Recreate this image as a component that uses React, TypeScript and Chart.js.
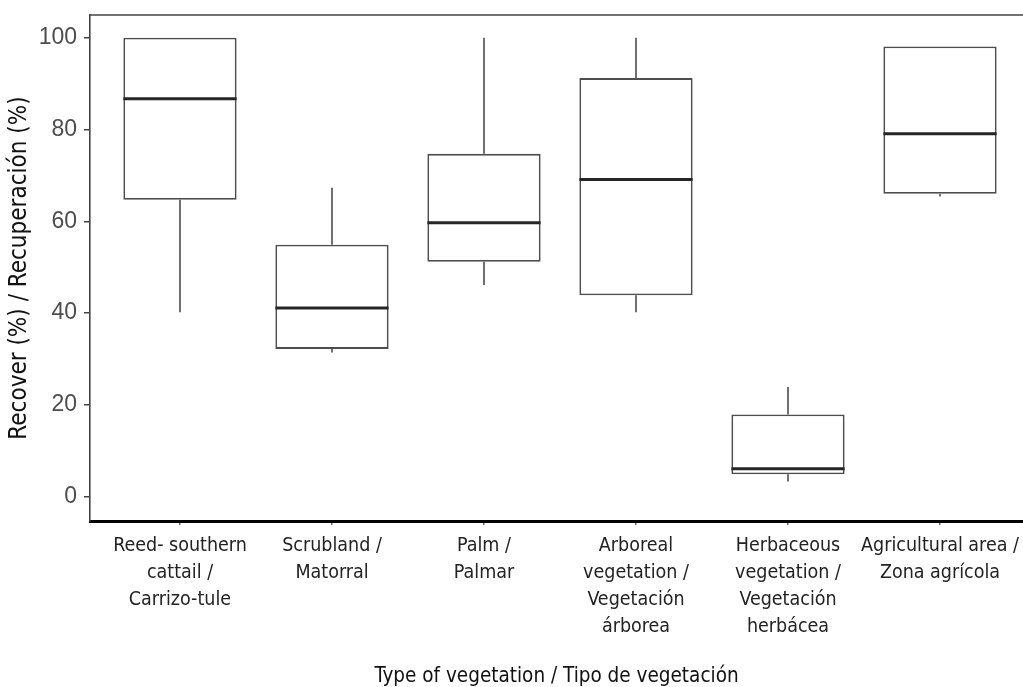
import React, { useEffect, useRef } from "react";
import { Chart, registerables } from "chart.js";

Chart.register(...registerables);

const categories: string[][] = [
  ["Reed- southern", "cattail /", "Carrizo-tule"],
  ["Scrubland /", "Matorral"],
  ["Palm /", "Palmar"],
  ["Arboreal", "vegetation /", "Vegetación", "árborea"],
  ["Herbaceous", "vegetation /", "Vegetación", "herbácea"],
  ["Agricultural area /", "Zona agrícola"],
];
const whiskerMin = [40.2, 31.4, 46.1, 40.2, 3.3, 65.4];
const q1 = [64.7, 32.2, 51.2, 43.9, 4.9, 66.0];
const median = [86.7, 41.1, 59.7, 69.1, 6.1, 79.1];
const q3 = [100, 54.9, 74.7, 91.2, 17.9, 98.1];
const whiskerMax = [100, 67.3, 100, 100, 23.9, 98.1];
const yTicks = [0, 20, 40, 60, 80, 100];

const NARROW = '"Liberation Sans Narrow", "DejaVu Sans Condensed", "Roboto", sans-serif';

const zeroPad = (s: any) => {
  s.paddingTop = 0;
  s.paddingBottom = 0;
  s.paddingLeft = 0;
  s.paddingRight = 0;
};

export default function App() {
  const ref = useRef<HTMLCanvasElement>(null);
  useEffect(() => {
    if (!ref.current) return;
    const boxExtras = {
      id: "boxExtras",
      afterDatasetsDraw(chart: any) {
        const { ctx, chartArea } = chart;
        const x = chart.scales.x;
        const y = chart.scales.y;
        const meta = chart.getDatasetMeta(0);
        ctx.save();
        meta.data.forEach((bar: any, i: number) => {
          const cx = x.getPixelForValue(i);
          const half = bar.width / 2;
          ctx.strokeStyle = "#4d4d4d";
          ctx.lineWidth = 1.6;
          ctx.beginPath();
          ctx.moveTo(cx, y.getPixelForValue(q3[i]));
          ctx.lineTo(cx, y.getPixelForValue(whiskerMax[i]));
          ctx.moveTo(cx, y.getPixelForValue(q1[i]));
          ctx.lineTo(cx, y.getPixelForValue(whiskerMin[i]));
          ctx.stroke();
          const my = y.getPixelForValue(median[i]);
          ctx.strokeStyle = "#262626";
          ctx.lineWidth = 3;
          ctx.beginPath();
          ctx.moveTo(cx - half, my);
          ctx.lineTo(cx + half, my);
          ctx.stroke();
        });
        ctx.strokeStyle = "#444444";
        ctx.lineWidth = 1.6;
        ctx.beginPath();
        ctx.moveTo(chartArea.left, chartArea.top);
        ctx.lineTo(chartArea.right, chartArea.top);
        ctx.stroke();
        ctx.restore();
      },
    };

    const chart = new Chart(ref.current, {
      type: "bar",
      data: {
        datasets: [
          {
            data: categories.map((_, i) => ({ x: i, y: [q1[i], q3[i]] })) as any,
            backgroundColor: "#ffffff",
            borderColor: "#4d4d4d",
            borderWidth: 1.8,
            borderSkipped: false,
            categoryPercentage: 0.745,
            barPercentage: 1,
            grouped: false,
          } as any,
        ],
      },
      options: {
        responsive: false,
        animation: false,
        layout: { padding: { top: 15, right: 0, bottom: 0, left: 0 } },
        plugins: { legend: { display: false }, tooltip: { enabled: false } },
        scales: {
          x: {
            type: "linear",
            min: -0.592,
            max: 5.546,
            offset: false,
            afterFit: (s: any) => {
              s.height = 166;
              zeroPad(s);
            },
            afterBuildTicks: (s: any) => {
              s.ticks = categories.map((_, i) => ({ value: i }));
            },
            ticks: {
              callback: (v: any) => categories[v as number] ?? "",
              autoSkip: false,
              maxRotation: 0,
              minRotation: 0,
              color: "#222222",
              padding: 8,
              font: { family: NARROW, size: 19.5, lineHeight: 1.37 },
            },
            grid: {
              display: true,
              offset: false,
              drawOnChartArea: false,
              drawTicks: true,
              tickLength: 4,
              tickColor: "#666666",
              lineWidth: 1.5,
            },
            border: { display: true, color: "#000000", width: 3 },
            title: {
              display: true,
              text: "Type of vegetation / Tipo de vegetación",
              color: "#111111",
              font: { family: NARROW, size: 20.5, lineHeight: 1 },
              padding: { top: 0, bottom: 0 },
            },
          },
          y: {
            type: "linear",
            min: -5.29,
            max: 104.95,
            afterFit: (s: any) => {
              s.width = 90;
              zeroPad(s);
            },
            afterBuildTicks: (s: any) => {
              s.ticks = yTicks.map((v) => ({ value: v }));
            },
            ticks: {
              color: "#4d4d4d",
              padding: 7,
              font: { family: '"Liberation Sans", Arial, sans-serif', size: 23 },
            },
            grid: {
              display: true,
              drawOnChartArea: false,
              drawTicks: true,
              tickLength: 6,
              tickColor: "#444444",
              lineWidth: 1.5,
            },
            border: { display: true, color: "#444444", width: 1.6 },
            title: {
              display: true,
              text: "Recover (%) / Recuperación (%)",
              color: "#111111",
              font: { family: NARROW, size: 24, lineHeight: 1 },
              padding: { top: 8, bottom: 0 },
            },
          },
        },
      },
      plugins: [boxExtras],
    });
    return () => chart.destroy();
  }, []);

  return (
    <div style={{ position: "fixed", left: 0, top: 0, width: 1023, height: 687, background: "#fff" }}>
      <canvas ref={ref} width={1023} height={687} style={{ display: "block" }} />
    </div>
  );
}
